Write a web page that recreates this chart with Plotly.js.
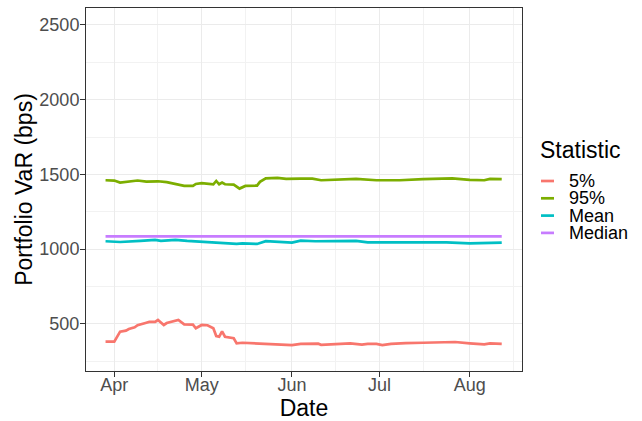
<!DOCTYPE html>
<html>
<head>
<meta charset="utf-8">
<script src="https://cdn.plot.ly/plotly-3.0.1.min.js"></script>
<style>html,body{margin:0;padding:0;background:#fff;}#chart{width:642px;height:421px;}</style>
</head>
<body>
<div id="chart"></div>
<script>
// ---- data ----
var seriesNames = ["5%", "95%", "Mean", "Median"];
var seriesColors = ["#F8766D", "#7CAE00", "#00BFC4", "#C77CFF"];

var datesP5 = ["2020-03-29","2020-04-01","2020-04-03","2020-04-05","2020-04-06","2020-04-08","2020-04-09","2020-04-10","2020-04-12","2020-04-13","2020-04-15","2020-04-16","2020-04-18","2020-04-19","2020-04-21","2020-04-23","2020-04-25","2020-04-28","2020-04-29","2020-05-01","2020-05-03","2020-05-05","2020-05-06","2020-05-07","2020-05-08","2020-05-09","2020-05-12","2020-05-13","2020-05-15","2020-05-23","2020-05-30","2020-06-01","2020-06-04","2020-06-10","2020-06-11","2020-06-18","2020-06-21","2020-06-25","2020-06-27","2020-06-30","2020-07-02","2020-07-05","2020-07-10","2020-07-16","2020-07-22","2020-07-27","2020-08-01","2020-08-04","2020-08-06","2020-08-08","2020-08-12"];
var valuesP5 = [381,381,448,455,466,477,491,495,508,513,513,526,493,506,517,526,497,495,471,493,491,471,419,414,450,414,404,370,374,366,360,358,366,368,360,366,370,362,366,366,358,366,372,374,377,379,370,365,363,370,367];

var datesP95 = ["2020-03-29","2020-04-01","2020-04-03","2020-04-06","2020-04-09","2020-04-12","2020-04-16","2020-04-19","2020-04-22","2020-04-25","2020-04-28","2020-04-29","2020-05-01","2020-05-03","2020-05-05","2020-05-06","2020-05-07","2020-05-08","2020-05-09","2020-05-12","2020-05-14","2020-05-16","2020-05-20","2020-05-21","2020-05-23","2020-05-27","2020-05-30","2020-06-04","2020-06-08","2020-06-11","2020-06-17","2020-06-23","2020-06-30","2020-07-08","2020-07-16","2020-07-26","2020-08-01","2020-08-06","2020-08-08","2020-08-12"];
var valuesP95 = [1461,1459,1445,1450,1459,1452,1454,1448,1436,1423,1423,1436,1441,1436,1434,1456,1434,1445,1434,1432,1405,1423,1425,1450,1474,1477,1470,1472,1472,1461,1463,1470,1461,1461,1468,1474,1463,1461,1470,1468];

var datesMean = ["2020-03-29","2020-04-03","2020-04-10","2020-04-15","2020-04-17","2020-04-22","2020-04-26","2020-05-02","2020-05-07","2020-05-13","2020-05-15","2020-05-20","2020-05-23","2020-05-30","2020-06-01","2020-06-04","2020-06-09","2020-06-23","2020-06-27","2020-07-05","2020-07-16","2020-07-24","2020-08-01","2020-08-08","2020-08-12"];
var valuesMean = [1053,1048,1055,1062,1055,1062,1055,1048,1041,1035,1039,1035,1053,1046,1044,1057,1053,1055,1046,1046,1048,1046,1039,1044,1044];

var datesMedian = ["2020-03-29","2020-08-12"];
var valuesMedian = [1086,1086];

var xTickVals = ["2020-04-01","2020-05-01","2020-06-01","2020-07-01","2020-08-01"];
var xTickText = ["Apr","May","Jun","Jul","Aug"];
var xMinorVals = ["2020-04-16","2020-05-16","2020-06-16","2020-07-16","2020-08-16"];
var yTickVals = [500,1000,1500,2000,2500];
var yMinorVals = [250,750,1250,1750,2250];

// ---- chart ----
var allDates = [datesP5, datesP95, datesMean, datesMedian];
var allValues = [valuesP5, valuesP95, valuesMean, valuesMedian];
var traces = [];
for (var i = 0; i < seriesNames.length; i++) {
  traces.push({
    type: "scatter", mode: "lines", name: seriesNames[i],
    x: allDates[i], y: allValues[i],
    line: {color: seriesColors[i], width: 2.7},
    showlegend: false, hoverinfo: "skip"
  });
}

// plot area in pixels
var L = 86, R = 522, T = 8, B = 371, W = 642, H = 421;
function px2x(X) { return (X - L) / (R - L); }
function px2y(Y) { return (B - Y) / (B - T); }

var fontFam = "Liberation Sans, Arial, sans-serif";
var annotations = [{
  xref: "paper", yref: "paper", x: px2x(538), y: px2y(150),
  xanchor: "left", yanchor: "middle", showarrow: false, height: 26,
  text: "Statistic", font: {family: fontFam, size: 23, color: "#000"}
}];
var shapes = [];
var legendY = [181, 198.3, 215.6, 232.9];
for (var k = 0; k < seriesNames.length; k++) {
  shapes.push({type: "line", xref: "paper", yref: "paper",
    x0: px2x(541), x1: px2x(554), y0: px2y(legendY[k]), y1: px2y(legendY[k]),
    line: {color: seriesColors[k], width: 2.7}});
  annotations.push({xref: "paper", yref: "paper", x: px2x(567), y: px2y(legendY[k]),
    xanchor: "left", yanchor: "middle", showarrow: false, height: 16,
    text: seriesNames[k], font: {family: fontFam, size: 18, color: "#000"}});
}

var layout = {
  width: W, height: H,
  margin: {l: L, r: W - R, t: T, b: H - B, pad: 0},
  paper_bgcolor: "#fff", plot_bgcolor: "#fff",
  showlegend: false,
  font: {family: fontFam},
  xaxis: {
    type: "date",
    range: ["2020-03-22 07:00", "2020-08-18 23:00"],
    tickmode: "array", tickvals: xTickVals, ticktext: xTickText,
    ticks: "outside", ticklen: 5, tickwidth: 1, tickcolor: "#333333",
    ticklabelstandoff: -8,
    tickfont: {family: fontFam, size: 18, color: "#4D4D4D"},
    showgrid: true, gridcolor: "#EBEBEB", gridwidth: 1,
    minor: {tickmode: "array", tickvals: xMinorVals, showgrid: true, gridcolor: "#F2F2F2", gridwidth: 1, ticks: ""},
    showline: true, mirror: true, linecolor: "#333333", linewidth: 1,
    zeroline: false,
    title: {text: "Date", font: {family: fontFam, size: 23, color: "#000"}, standoff: 0},
    automargin: false
  },
  yaxis: {
    range: [185, 2613],
    tickmode: "array", tickvals: yTickVals,
    ticks: "outside", ticklen: 5, tickwidth: 1, tickcolor: "#333333",
    ticklabelstandoff: -3,
    tickfont: {family: fontFam, size: 18, color: "#4D4D4D"},
    showgrid: true, gridcolor: "#EBEBEB", gridwidth: 1,
    minor: {tickmode: "array", tickvals: yMinorVals, showgrid: true, gridcolor: "#F2F2F2", gridwidth: 1, ticks: ""},
    showline: true, mirror: true, linecolor: "#333333", linewidth: 1,
    zeroline: false,
    title: {text: "Portfolio VaR (bps)", font: {family: fontFam, size: 23, color: "#000"}, standoff: 0},
    automargin: false
  },
  annotations: annotations,
  shapes: shapes
};

Plotly.newPlot("chart", traces, layout, {displayModeBar: false, staticPlot: true});
</script>
</body>
</html>
